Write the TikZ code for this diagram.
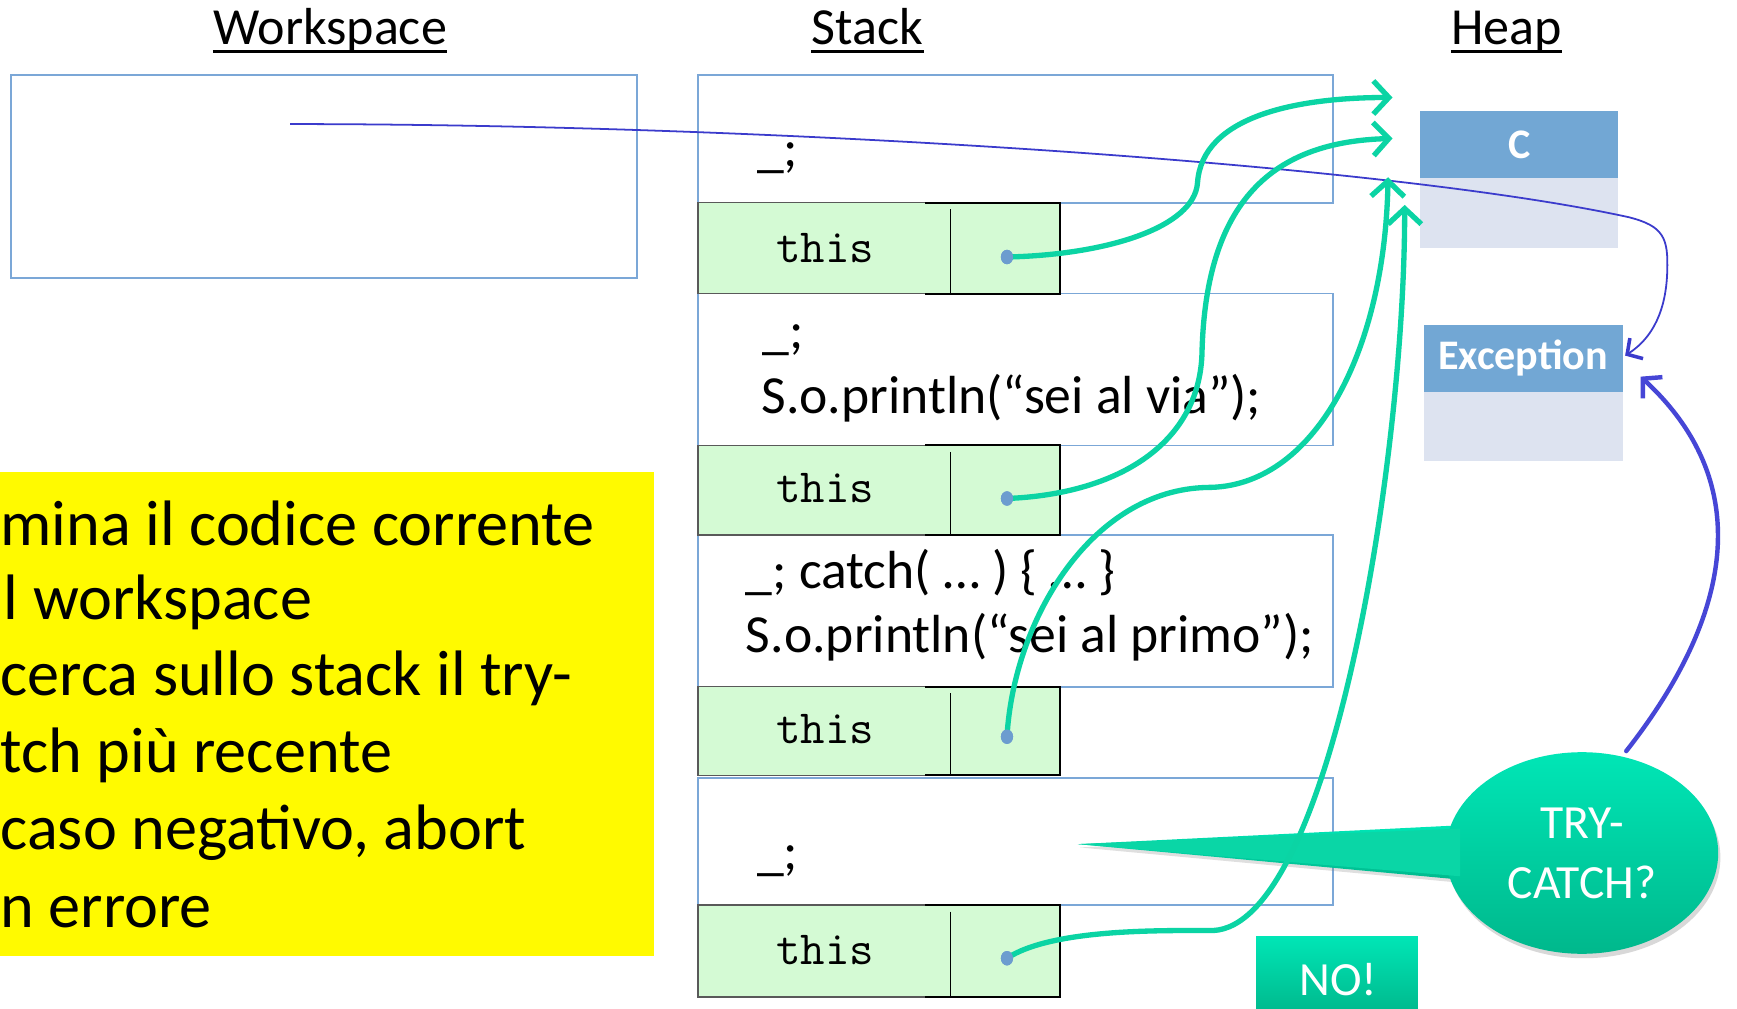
\documentclass[tikz,border=0pt]{standalone}
\usepackage{fontspec}
\setmainfont{Carlito}
\usetikzlibrary{arrows.meta,shapes.geometric,fit,shadows}
\definecolor{boxblue}{HTML}{7BA7D7}
\definecolor{thisgreen}{HTML}{D4FAD4}
\definecolor{hdrblue}{HTML}{72A7D4}
\definecolor{bodyblue}{HTML}{DDE3F0}
\definecolor{tealc}{HTML}{0BD4A4}
\definecolor{tealtop}{HTML}{00E6B6}
\definecolor{tealbot}{HTML}{00B88C}
\definecolor{refblue}{HTML}{3B3BCC}
\definecolor{thickblue}{HTML}{4646D6}
\definecolor{dotblue}{HTML}{6C9CCF}
\definecolor{yel}{HTML}{FFFA00}
\begin{document}
\begin{tikzpicture}[x=0.5pt,y=-0.5pt,
  framebox/.style={draw=boxblue, line width=0.75pt, inner sep=0pt},
  thisrow/.style={fill=thisgreen, draw=gray!70!black, line width=0.6pt, inner sep=0pt},
  code/.style={anchor=base west, inner sep=0pt, font=\fontsize{24.2}{28}\selectfont},
  titletext/.style={anchor=base, inner sep=0pt, font=\fontsize{23.5}{28}\selectfont},
  ttext/.style={inner sep=0pt, font=\fontsize{21.5}{24}\selectfont\ttfamily},
  hdr/.style={fill=hdrblue, inner sep=0pt},
  bodyc/.style={fill=bodyblue, inner sep=0pt},
  hdrtext/.style={text=white, font=\fontsize{19}{22}\selectfont\bfseries, inner sep=0pt},
  yline/.style={anchor=base west, inner sep=0pt, font=\fontsize{29}{34}\selectfont},
  ptr/.style={tealc, line width=2.4pt, line cap=round, -{Straight Barb[length=7pt,width=15pt,line width=2.4pt]}},
  dotm/.style={ellipse, fill=dotblue, inner sep=0pt, minimum width=5.5pt, minimum height=6.5pt},
  tealbox/.style={top color=tealtop, bottom color=tealbot, draw=none}
]
\useasboundingbox (0,0) rectangle (1568,910);
\fill[white] (0,0) rectangle (1568,910);

% titles
\node[titletext] (tws) at (298,40) {Workspace};
\node[titletext] (tst) at (783,40) {Stack};
\node[titletext] (thp) at (1360,40) {Heap};
\foreach \t in {tws,tst,thp}
  \draw[line width=1.5pt] ([yshift=-3.2pt]\t.base west) -- ([yshift=-3.2pt]\t.base east);

% workspace
\node[framebox, fit={(10,68) (575,251)}] (wsbox) {};

% stack frames
\node[framebox, fit={(630,68) (1203,183)}] (f1) {};
\node[framebox, fit={(630,265) (1203,402)}] (f2) {};
\node[framebox, fit={(630,483) (1203,620)}] (f3) {};
\node[framebox, fit={(630,702) (1203,817)}] (f4) {};

% this rows
\foreach \n/\a/\b in {r1/183/265, r2/402/483, r3/620/700, r4/817/900}{
  \node[thisrow, fit={(630,\a) (957,\b)}] (\n) {};
  \draw[black, line width=0.9pt] (835,\a) -- (957,\a) -- (957,\b) -- (835,\b);
  \draw[black, line width=0.8pt] (858,\a+6) -- (858,\b);
}
\node[ttext] (th1) at (745,224) {this};
\node[ttext] (th2) at (745,441) {this};
\node[ttext] (th3) at (745,658) {this};
\node[ttext] (th4) at (745,858) {this};

% code text
\node[code] (c1) at (683,150) {\_;};
\node[code] (c2a) at (688,315) {\_;};
\node[code] (c2b) at (687,373) {S.o.println(“sei al via”);};
\node[code] (c3a) at (673,531) {\_; catch( … ) \{ … \}};
\node[code] (c3b) at (673,589) {S.o.println(“sei al primo”);};
\node[code] (c4) at (683,785) {\_;};

% heap
\node[hdr, fit={(1282,100) (1461,161)}] (ch) {};
\node[bodyc, fit={(1282,161) (1461,224)}] (cb) {};
\node[hdrtext] (ct) at (ch.center) {C};
\node[hdr, fit={(1285,293) (1465,354)}] (eh) {};
\node[bodyc, fit={(1285,354) (1465,416)}] (eb) {};
\node[hdrtext] (et) at (eh.center) {Exception};

% yellow note
\node[fill=yel, inner sep=0pt, fit={(0,426) (590,863)}] (note) {};
\node[yline] (l1) at (0,492) {mina il codice corrente};
\node[yline] (l2) at (3,559) {l workspace};
\node[yline] (l3) at (0,628) {cerca sullo stack il try-};
\node[yline] (l4) at (0,697) {tch più recente};
\node[yline] (l5) at (0,767) {caso negativo, abort};
\node[yline] (l6) at (0,837) {n errore};

% callout bubble
\coordinate (tailtip) at (973,762);
\shade[tealbox, drop shadow={opacity=0.25, shadow xshift=1pt, shadow yshift=-1.5pt}]
  (tailtip) -- (1318,745) -- (1318,794) -- cycle;
\node[ellipse, tealbox, minimum width=123pt, minimum height=91pt, inner sep=0pt,
  drop shadow={opacity=0.3, shadow xshift=1pt, shadow yshift=-2pt}] (bubble) at (1428,770) {};
\fill[tealc!90!tealtop] (tailtip) -- (1318,748) -- (1318,791) -- cycle;
\node[text=white, inner sep=0pt, font=\fontsize{21.5}{25}\selectfont, align=center] (btxt) at (1428,770) {TRY-\\[2pt]CATCH?};

% NO! box
\node[tealbox, fit={(1134,845) (1280,915)}, inner sep=0pt] (nobox) {};
\node[text=white, inner sep=0pt, font=\fontsize{21.5}{25}\selectfont] (notxt) at (1208,884) {NO!};

% blue reference line to Exception
\coordinate (wsp) at (262,112);
\coordinate (exin) at (1467,321);
\draw[refblue, line width=0.8pt, -{Straight Barb[length=5pt,width=11pt,line width=1.6pt]}]
  (wsp) .. controls (700,112) and (1250,148) .. (1470,196)
        .. controls (1502,204) and (1506,215) .. (1505,245)
        .. controls (1504,280) and (1492,305) .. (exin);

% teal pointers
\node[dotm] (d1) at (909,232) {};
\node[dotm] (d2) at (909,450) {};
\node[dotm] (d3) at (909,665) {};
\node[dotm] (d4) at (909,865) {};
\coordinate (h1) at (1257,88);
\coordinate (h2) at (1257,125);
\coordinate (h3) at (1253,160);
\coordinate (h4) at (1268,185);

\draw[ptr] (d1.center) .. controls (1000,230) and (1078,205) .. (1081,165)
  .. controls (1085,105) and (1170,88) .. (h1);
\draw[ptr] (d2.center) .. controls (1010,446) and (1082,400) .. (1085,320)
  .. controls (1088,180) and (1150,128) .. (h2);
\draw[ptr] (d3.center) .. controls (915,560) and (985,442) .. (1090,440)
  .. controls (1185,440) and (1250,320) .. (h3);
\draw[ptr] (d4.center) .. controls (950,838) and (1050,840) .. (1095,840)
  .. controls (1200,835) and (1268,420) .. (h4);
\foreach \d in {d1,d2,d3,d4} \node[dotm] at (\d) {};

% bubble to Exception
\coordinate (bt) at (1468,678);
\coordinate (exb) at (1481,340);
\draw[thickblue, line width=2pt, line cap=round, -{Straight Barb[length=6pt,width=13pt,line width=2pt]}]
  (bt) .. controls (1545,580) and (1600,450) .. (exb);
\end{tikzpicture}
\end{document}
